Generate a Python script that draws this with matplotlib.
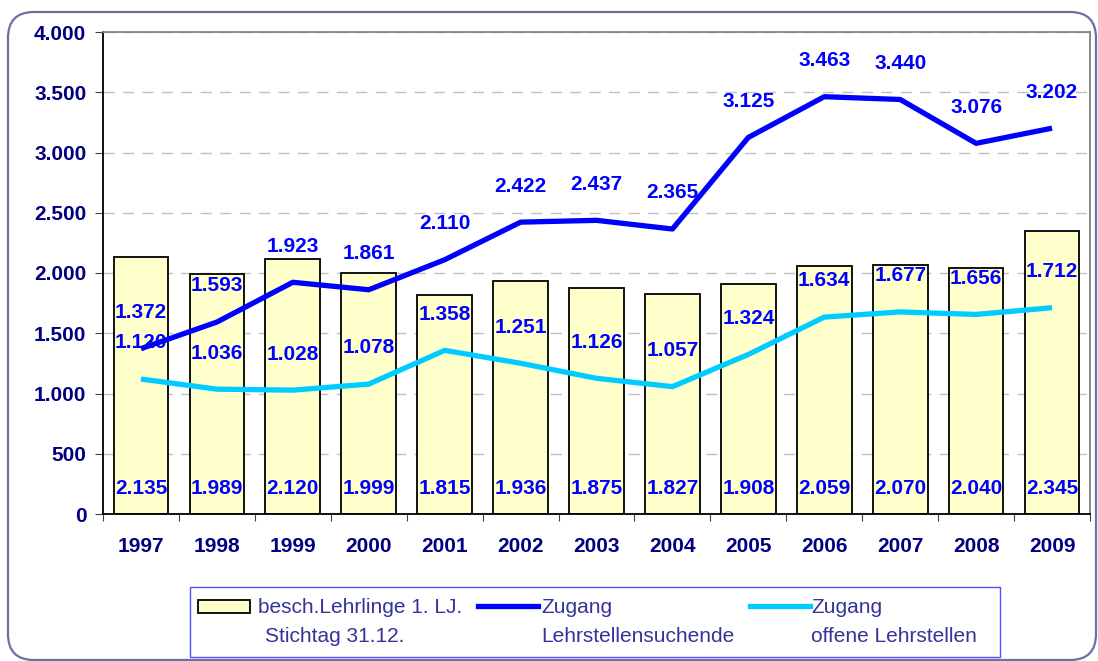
import matplotlib.pyplot as plt
import numpy as np
from matplotlib.patches import Rectangle, FancyBboxPatch
from matplotlib.lines import Line2D
from matplotlib.ticker import FuncFormatter, FixedLocator

years = ['1997', '1998', '1999', '2000', '2001', '2002', '2003',
         '2004', '2005', '2006', '2007', '2008', '2009']
lehrlinge = [2135, 1989, 2120, 1999, 1815, 1936, 1875, 1827, 1908, 2059, 2070, 2040, 2345]
suchende = [1372, 1593, 1923, 1861, 2110, 2422, 2437, 2365, 3125, 3463, 3440, 3076, 3202]
offene = [1120, 1036, 1028, 1078, 1358, 1251, 1126, 1057, 1324, 1634, 1677, 1656, 1712]

W, H = 1098, 661
navy = '#000080'
blue = '#0000ff'
cyan = '#00ccff'
font = ['Liberation Sans', 'DejaVu Sans']

def dots(v):  # German thousands separator
    return f'{int(v):,}'.replace(',', '.')

def px(x, y):  # pixel position -> figure fraction
    return x / W, 1 - y / H

fig = plt.figure(figsize=(W / 100, H / 100), dpi=100)
ax = fig.add_axes([103 / W, 1 - 514 / H, (1090 - 103) / W, (514 - 32) / H])

x = np.arange(len(years))
ax.bar(x, lehrlinge, width=0.72, color='#ffffcc', edgecolor='black', linewidth=1.3, zorder=2)
ax.plot(x, suchende, color=blue, lw=3.8, zorder=3, solid_capstyle='butt')
ax.plot(x, offene, color=cyan, lw=3.8, zorder=3, solid_capstyle='butt')

lab = dict(color=blue, fontsize=15, fontweight='bold', family=font,
           ha='center', va='center', textcoords='offset points', zorder=5)
for i in range(len(years)):
    ax.annotate(dots(lehrlinge[i]), (x[i], 0), xytext=(0, 18), **lab)
    ax.annotate(dots(suchende[i]), (x[i], suchende[i]), xytext=(0, 26), **lab)
    ax.annotate(dots(offene[i]), (x[i], offene[i]), xytext=(0, 26), **lab)

ax.set_xlim(-0.5, len(years) - 0.5)
ax.set_ylim(0, 4000)
ax.set_yticks(np.arange(0, 4001, 500))
ax.yaxis.set_major_formatter(FuncFormatter(lambda v, p: dots(v)))
ax.yaxis.grid(True, color='#c0c0c0', lw=1, dashes=(8, 6), zorder=0)
ax.set_axisbelow(True)

# ticks at category boundaries, labels at centres
ax.xaxis.set_major_locator(FixedLocator(np.arange(-0.5, len(years), 1.0)))
ax.xaxis.set_major_formatter(FuncFormatter(lambda v, p: ''))
ax.set_xticks(x, years, minor=True)
ax.tick_params(axis='x', which='major', length=5, direction='out', color='#404040')
ax.tick_params(axis='x', which='minor', length=0, pad=16.5)
ax.tick_params(axis='y', length=6, direction='out', pad=6, color='#404040')
for t in ax.get_xticklabels(minor=True) + ax.get_yticklabels():
    t.set_fontsize(15)
    t.set_fontweight('bold')
    t.set_family(font)
    t.set_color(navy)

ax.spines['left'].set_color('black')
ax.spines['bottom'].set_color('black')
ax.spines['top'].set_color('#808080')
ax.spines['right'].set_color('#808080')
for s in ax.spines.values():
    s.set_linewidth(1.3)

# outer rounded frame
frame = FancyBboxPatch((8, 1), 1088, 648, boxstyle='round,pad=0,rounding_size=26',
                       transform=None, fill=False, edgecolor='#6d6fa3', lw=1.6)
fig.add_artist(frame)

# legend drawn by hand
lx, ly = px(190, 657)
fig.add_artist(Rectangle((lx, ly), 810 / W, 70 / H, transform=fig.transFigure,
                         fill=False, edgecolor='#5050ff', lw=1))
rx, ry = px(198, 613)
fig.add_artist(Rectangle((rx, ry), 52 / W, 13 / H, transform=fig.transFigure,
                         facecolor='#ffffcc', edgecolor='black', lw=1.3))
for x0, x1, c in [(478, 538, blue), (750, 810, cyan)]:
    (a, yy), (b, _) = px(x0, 606), px(x1, 606)
    fig.add_artist(Line2D([a, b], [yy, yy], transform=fig.transFigure, color=c, lw=3.8))

legend_text = [(258, 613, 'besch.Lehrlinge 1. LJ.'), (265, 642, 'Stichtag 31.12.'),
               (541, 613, 'Zugang'), (541, 642, 'Lehrstellensuchende'),
               (811, 613, 'Zugang'), (811, 642, 'offene Lehrstellen')]
for tx, ty, s in legend_text:
    fx, fy = px(tx, ty)
    fig.text(fx, fy, s, ha='left', va='baseline', fontsize=15, color='#333399',
             family=font)

fig.savefig('out.png', dpi=100)
